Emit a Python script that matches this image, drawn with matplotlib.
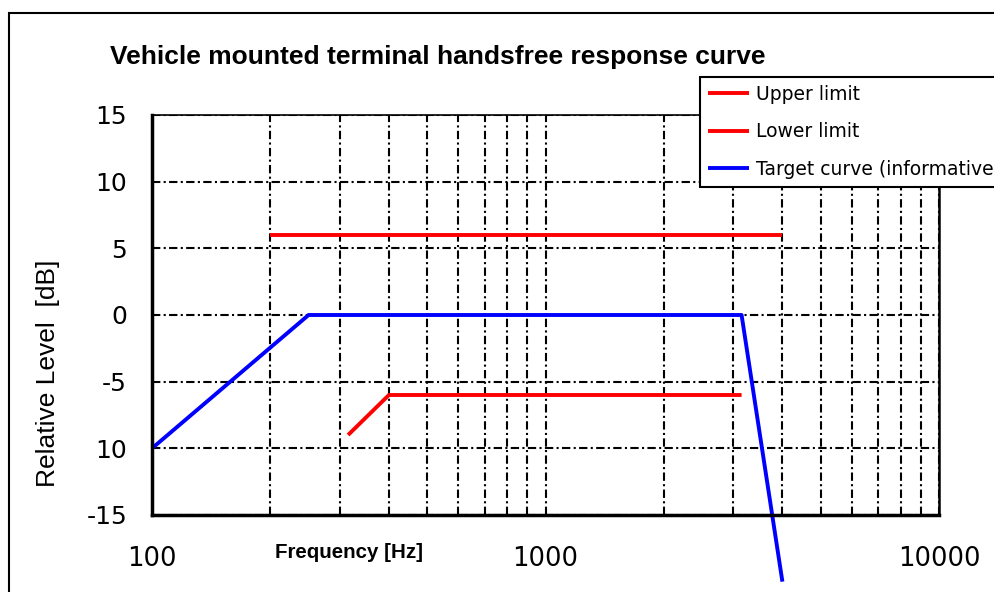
import matplotlib
matplotlib.use("Agg")
import matplotlib.pyplot as plt
from matplotlib import font_manager as fm
from matplotlib.patches import Rectangle

# limits
upper_f = [200, 4000]
upper_db = [6, 6]
lower_f = [315, 400, 3150]
lower_db = [-9, -6, -6]
target_f = [100, 250, 3150, 4000]
target_db = [-10, 0, 0, -20]

y_ticks = [-15, -10, -5, 0, 5, 10, 15]
y_labels = ["-15", "10", "-5", "0", "5", "10", "15"]
x_ticks = [100, 1000, 10000]
x_labels = ["100", "1000", "10000"]
minor_f = [200, 300, 400, 500, 600, 700, 800, 900,
           2000, 3000, 4000, 5000, 6000, 7000, 8000, 9000]


def liberation(name, size):
    # pick the regular-width Liberation Sans file, not the Narrow one
    for path in fm.findSystemFonts():
        if path.endswith(name):
            return fm.FontProperties(fname=path, size=size)
    return fm.FontProperties(family="Liberation Sans", size=size)


plt.rcParams["font.family"] = "DejaVu Sans"

fig = plt.figure(figsize=(9.95, 5.92), dpi=100)
ax = fig.add_axes([152 / 995, 1 - 515 / 592, (939 - 152) / 995, (515 - 115) / 592])

# outer frame of the chart area
fig.patches.append(Rectangle((9 / 995, -0.1), 1.2, 1 - 13 / 592 + 0.1,
                             transform=fig.transFigure, fill=False,
                             edgecolor="black", linewidth=1.5))

ax.plot(upper_f, upper_db, color="#ff0000", lw=2.8, label="Upper limit",
        solid_capstyle="butt")
ax.plot(lower_f, lower_db, color="#ff0000", lw=2.8, label="Lower limit",
        solid_capstyle="butt")
ax.plot(target_f, target_db, color="#0000ff", lw=2.8,
        label="Target curve (informative)", clip_on=False, solid_capstyle="butt")

ax.set_xscale("log")
ax.set_xlim(100, 10000)
ax.set_ylim(-15, 15)
ax.set_xticks(x_ticks)
ax.set_xticklabels(x_labels)
ax.set_xticks(minor_f, minor=True)
ax.xaxis.set_minor_formatter(plt.NullFormatter())
ax.set_yticks(y_ticks)
ax.set_yticklabels(y_labels)
ax.tick_params(axis="x", which="both", length=0, pad=22, labelsize=18.5)
ax.tick_params(axis="y", length=0, pad=18, labelsize=18)

grid_style = dict(color="black", linewidth=1.5, dashes=(4, 1.6, 1, 1.6))
ax.grid(True, which="both", axis="x", **grid_style)
ax.grid(True, which="major", axis="y", **grid_style)

for side in ["left", "bottom"]:
    ax.spines[side].set_linewidth(2.5)
ax.spines["right"].set_linewidth(1.8)
ax.spines["top"].set_linewidth(1.2)

ax.set_ylabel("Relative Level  [dB]",
              fontproperties=liberation("LiberationSans-Regular.ttf", 19))
ax.yaxis.set_label_coords((60 - 152) / (939 - 152), (515 - 373) / 400)
fig.text(349 / 995, 1 - 553 / 592, "Frequency [Hz]",
         fontproperties=liberation("LiberationSans-Bold.ttf", 14.8),
         ha="center", va="center")
fig.text(110 / 995, 1 - 57 / 592,
         "Vehicle mounted terminal handsfree response curve",
         fontproperties=liberation("LiberationSans-Bold.ttf", 19),
         ha="left", va="center")

leg = fig.legend(loc="upper left", bbox_to_anchor=(700 / 995, 1 - 77 / 592),
                 fontsize=13.5, frameon=True, fancybox=False,
                 handlelength=2.2, labelspacing=0.98, borderaxespad=0,
                 handletextpad=0.35, borderpad=0.42)
leg.get_frame().set_edgecolor("black")
leg.get_frame().set_linewidth(1.5)
leg.get_frame().set_alpha(1)

fig.savefig("out.png", dpi=100)
